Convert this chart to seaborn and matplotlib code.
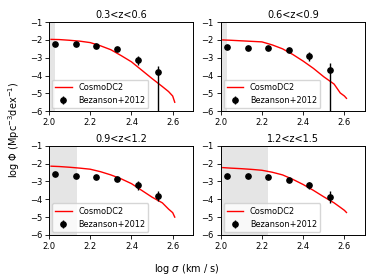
import numpy as np
import pandas as pd
import matplotlib
matplotlib.use("Agg")
import matplotlib.pyplot as plt
import seaborn as sns

# ─────────────────────────────────────────────
# DATA
# ─────────────────────────────────────────────
z_bins = ["0.3<z<0.6", "0.6<z<0.9", "0.9<z<1.2", "1.2<z<1.5"]

# CosmoDC2 curves
curve_x = [2.01, 2.05, 2.10, 2.15, 2.20, 2.25, 2.30, 2.35,
           2.40, 2.45, 2.50, 2.55, 2.58, 2.60, 2.61]
curve_1 = [-1.97, -1.98, -2.02, -2.07, -2.15, -2.33, -2.55, -2.88,
           -3.23, -3.70, -4.17, -4.62, -4.90, -5.15, -5.50]
curve_2 = [-2.00, -2.02, -2.05, -2.08, -2.11, -2.28, -2.50, -2.82,
           -3.19, -3.60, -4.07, -4.48, -4.98, -5.15, -5.28]
curve_3 = [-2.14, -2.16, -2.20, -2.25, -2.31, -2.45, -2.63, -2.85,
           -3.12, -3.50, -3.88, -4.20, -4.55, -4.75, -5.00]
curve_4 = [-2.22, -2.25, -2.28, -2.32, -2.37, -2.48, -2.63, -2.88,
           -3.17, -3.50, -3.86, -4.20, -4.45, -4.62, -4.74]

# Bezanson+2012 points
obs_x = [2.03, 2.13, 2.23, 2.33, 2.43, 2.53]
obs_1 = [-2.22, -2.25, -2.35, -2.52, -3.14, -3.79]
obs_2 = [-2.41, -2.47, -2.43, -2.58, -2.92, -3.70]
obs_3 = [-2.59, -2.67, -2.74, -2.85, -3.21, -3.81]
obs_4 = [-2.70, -2.70, -2.77, -2.92, -3.21, -3.86]
err_lo_1 = [0.08, 0.08, 0.08, 0.08, 0.26, 3.00]
err_hi_1 = [0.08, 0.08, 0.08, 0.08, 0.26, 0.32]
err_lo_2 = [0.08, 0.08, 0.08, 0.08, 0.26, 3.00]
err_hi_2 = [0.08, 0.08, 0.08, 0.08, 0.26, 0.43]
err_lo_3 = [0.08, 0.08, 0.08, 0.08, 0.24, 0.26]
err_hi_3 = [0.08, 0.08, 0.08, 0.08, 0.24, 0.26]
err_lo_4 = [0.08, 0.08, 0.08, 0.08, 0.20, 0.34]
err_hi_4 = [0.08, 0.08, 0.08, 0.08, 0.20, 0.34]

# incompleteness limit (shaded region)
shade_max = [2.03, 2.03, 2.135, 2.23]

curves = [curve_1, curve_2, curve_3, curve_4]
obs = [obs_1, obs_2, obs_3, obs_4]
err_lo = [err_lo_1, err_lo_2, err_lo_3, err_lo_4]
err_hi = [err_hi_1, err_hi_2, err_hi_3, err_hi_4]

# ─────────────────────────────────────────────
# FIGURE
# ─────────────────────────────────────────────
fig, axes = plt.subplots(2, 2, figsize=(3.74, 2.80), dpi=100)
fig.subplots_adjust(left=0.131, right=0.976, top=0.921,
                    bottom=0.161, wspace=0.19, hspace=0.39)

for i, ax in enumerate(axes.flat):
    ax.axvspan(2.0, shade_max[i], color='gray', alpha=0.2,
               lw=0)
    df = pd.DataFrame({'x': curve_x, 'y': curves[i]})
    sns.lineplot(data=df, x='x', y='y', color='red', lw=1.0,
                 label='CosmoDC2', ax=ax)
    ax.errorbar(obs_x, obs[i],
                yerr=[err_lo[i], err_hi[i]],
                fmt='o', color='black', ms=3.8, elinewidth=1.0,
                label='Bezanson+2012')
    ax.set_xlim(2.0, 2.7)
    ax.set_ylim(-6, -1)
    ax.set_xticks([2.0, 2.2, 2.4, 2.6])
    ax.set_yticks([-1, -2, -3, -4, -5, -6])
    ax.set_xlabel('')
    ax.set_ylabel('')
    ax.set_title(z_bins[i], fontsize=7, pad=3)
    ax.tick_params(labelsize=6, length=3, width=0.6, pad=2)
    for sp in ax.spines.values():
        sp.set_linewidth(0.7)
    ax.legend(loc='lower left', fontsize=5.9,
              borderaxespad=0.35, handlelength=2.0)

fig.text(0.5, 0.04, r'log $\sigma$ (km / s)', ha='center',
         va='center', fontsize=7)
fig.text(0.037, 0.536, r'log $\Phi$ (Mpc$^{-3}$dex$^{-1}$)',
         ha='center', va='center', rotation=90, fontsize=7)

plt.savefig('out.png', dpi=100)
plt.close()
